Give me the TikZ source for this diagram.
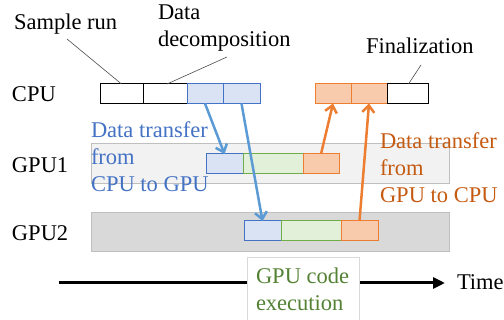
\documentclass[tikz,border=0pt]{standalone}
\usepackage{fontspec}
\setmainfont{Liberation Serif}
\usetikzlibrary{arrows.meta}

\definecolor{blueline}{HTML}{4472C4}
\definecolor{bluefill}{HTML}{DAE3F3}
\definecolor{bluearrow}{HTML}{5B9BD5}
\definecolor{greenline}{HTML}{70AD47}
\definecolor{greenfill}{HTML}{E2F0D9}
\definecolor{greentext}{HTML}{548235}
\definecolor{orangeline}{HTML}{ED7D31}
\definecolor{orangefill}{HTML}{F8CBAD}
\definecolor{orangetext}{HTML}{C55A11}
\definecolor{bandline}{HTML}{BFBFBF}
\definecolor{bandlight}{HTML}{F2F2F2}
\definecolor{banddark}{HTML}{D9D9D9}

\begin{document}
\begin{tikzpicture}[x=1pt, y=-1pt,
  lbl/.style={font=\fontsize{22.5}{27}\selectfont, inner sep=0, outer sep=0, anchor=base west, align=left},
  seg/.style={anchor=north west, inner sep=0, outer sep=0, line width=1pt, minimum height=19.5pt},
  plainseg/.style={seg, draw=black, fill=white},
  blueseg/.style={seg, draw=blueline, fill=bluefill},
  greenseg/.style={seg, draw=greenline, fill=greenfill},
  orangeseg/.style={seg, draw=orangeline, fill=orangefill},
  band/.style={anchor=north west, inner sep=0, outer sep=0, draw=bandline, line width=0.8pt},
  leader/.style={draw=black!70, line width=0.6pt},
  tohost/.style={draw=orangeline, line width=2.5pt, -{Straight Barb[length=7pt,width=12pt]}},
  todevice/.style={draw=bluearrow, line width=2.5pt, -{Straight Barb[length=7pt,width=12pt]}},
  timeline/.style={line width=3pt, -{Triangle[length=12pt,width=11pt]}}
]
\useasboundingbox (0,0) rectangle (504,320);

% GPU lanes
\node[band, fill=bandlight, minimum width=358pt, minimum height=40pt] (lane1) at (91,143) {};
\node[band, fill=banddark, minimum width=358pt, minimum height=39pt] (lane2) at (91,212) {};

% CPU timeline
\node[plainseg, minimum width=43pt] (s1) at (100,84) {};
\node[plainseg, minimum width=44pt] (s2) at (143,84) {};
\node[blueseg, minimum width=36pt] (c3) at (187,84) {};
\node[blueseg, minimum width=37pt] (c4) at (223,84) {};
\node[orangeseg, minimum width=36pt] (co1) at (315,84) {};
\node[orangeseg, minimum width=36pt] (co2) at (351,84) {};
\node[plainseg, minimum width=41pt] (cf) at (387,84) {};

% GPU1 timeline
\node[blueseg, minimum width=37pt, minimum height=20pt] (g1b) at (206,154) {};
\node[greenseg, minimum width=60pt, minimum height=20pt] (g1g) at (243,154) {};
\node[orangeseg, minimum width=36pt, minimum height=20pt] (g1o) at (303,154) {};

% GPU2 timeline
\node[blueseg, minimum width=37pt] (g2b) at (244,221) {};
\node[greenseg, minimum width=60pt] (g2g) at (281,221) {};
\node[orangeseg, minimum width=37pt] (g2o) at (341,221) {};

% row labels
\node[lbl] (cpu) at (12,102) {CPU};
\node[lbl] (gpu1) at (12,173) {GPU1};
\node[lbl] (gpu2) at (12,241) {GPU2};

% phase labels with leader lines (multi-line labels sit on their last baseline)
\node[lbl] (sample) at (14,30) {Sample run};
\node[lbl] (decomp) at (158,47) {Data\\decomposition};
\node[lbl] (final) at (366,54) {Finalization};
\coordinate (sampleend) at (67,39);
\coordinate (decompend) at (227,57);
\coordinate (finalend) at (421,65);
\draw[leader] (sampleend) -- (s1.north);
\draw[leader] (decompend) -- ([xshift=2pt]s2.north);
\draw[leader] (finalend) -- ([xshift=1pt]cf.north);

% transfers
\draw[todevice] (c3.south) -- (g1b.north);
\draw[todevice] (c4.south) -- (g2b.north);
\draw[tohost] (g1o.north) -- (co1.south);
\draw[tohost] (g2o.north) -- (co2.south);

\node[lbl, text=blueline] (h2d) at (91,192) {Data transfer\\from\\CPU to GPU};
\node[lbl, text=orangetext] (d2h) at (380,203) {Data transfer\\from\\GPU to CPU};

% time axis
\coordinate (t0) at (59,283);
\coordinate (t1) at (445,283);
\draw[timeline] (t0) -- (t1);
\node[lbl] (time) at (457,290) {Time};

% GPU code legend
\node[anchor=north west, inner sep=0, outer sep=0, draw=banddark, fill=white, line width=0.8pt,
      minimum width=112pt, minimum height=70pt] (execbox) at (247,257) {};
\node[lbl, text=greentext] (exec) at (256,311) {GPU code\\execution};
\end{tikzpicture}
\end{document}
